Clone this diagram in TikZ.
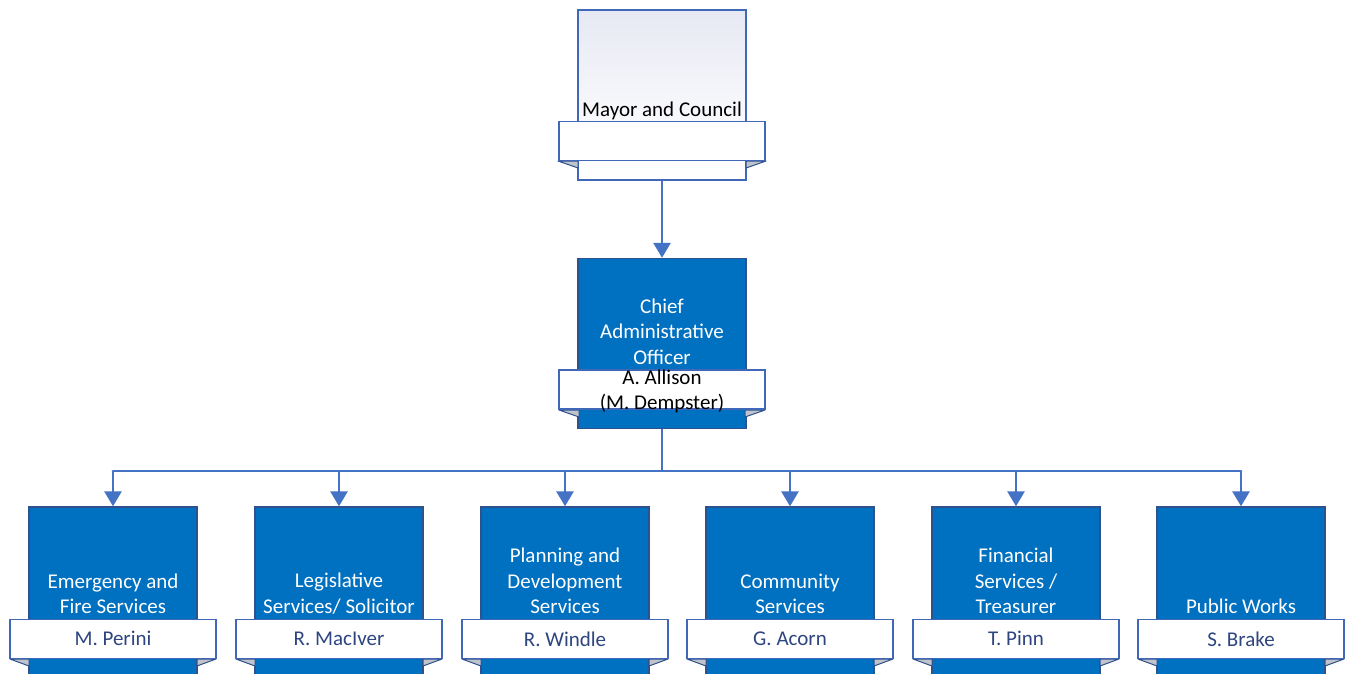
\documentclass[tikz,border=0pt]{standalone}
\usepackage{fontspec}
\setmainfont{Carlito}
\usepackage{xcolor}
\usetikzlibrary{arrows.meta}
\definecolor{boxblue}{HTML}{0070C0}
\definecolor{boxline}{HTML}{2F528F}
\definecolor{ribline}{HTML}{4168B8}
\definecolor{link}{HTML}{4472C4}
\definecolor{fold}{HTML}{BFC3CC}
\definecolor{who}{HTML}{2E4580}
\definecolor{pale}{HTML}{E6E8F3}
\newcommand{\lbl}{\fontsize{21}{25.5}\selectfont}
\tikzset{
  unit/.style={draw=boxline, line width=1.4pt, minimum width=168pt, minimum height=170pt, inner sep=0pt},
  blueunit/.style={unit, fill=boxblue},
  ribbon/.style={draw=ribline, fill=white, line width=1.4pt, minimum width=206pt, minimum height=39pt, inner sep=0pt, align=center, font=\lbl},
  foldtri/.style={fill=fold, draw=boxline, line width=1pt, line join=round},
  title/.style={align=center, font=\lbl, inner sep=1.5pt, anchor=south, yshift=3pt},
  conn/.style={draw=link, line width=2.8pt},
  arr/.style={conn, -{Triangle[width=17pt,length=15pt]}},
}

\begin{document}
\begin{tikzpicture}[x=1pt,y=-1pt]
  \clip (0,0) rectangle (1349,673);
  \fill[white] (0,0) rectangle (1349,673);

  % mayor and council
  \node[unit, draw=ribline, top color=pale, bottom color=white, middle color=white!60!pale] (mayor) at (662,95) {};
  \filldraw[foldtri] (558,161) -- (578,161) -- (578,168) -- cycle;
  \filldraw[foldtri] (766,161) -- (746,161) -- (746,168) -- cycle;
  \node[ribbon] (mayorname) at ([yshift=-131.5pt]mayor.north) {};
  \node[title, yshift=-4pt] (mayortitle) at (mayorname.north) {Mayor and Council};

  % chief administrative officer
  \node[blueunit] (cao) at (662,343.5) {};
  \filldraw[foldtri] (559,410) -- (579,410) -- (579,417) -- cycle;
  \filldraw[foldtri] (765,410) -- (745,410) -- (745,417) -- cycle;
  \node[ribbon] (caoname) at ([yshift=-131.5pt]cao.north) {};
  \node[font=\lbl, align=center, inner sep=0pt] (caowho) at ([yshift=-2pt]caoname) {A. Allison\\(M. Dempster)};
  \node[title, text=white] (caotitle) at (caoname.north) {Chief\\Administrative\\Officer};

  \draw[arr] (mayor.south) -- (cao.north);

  % departments
  \coordinate (bus) at (662,471);
  \foreach \x/\d/\ttl/\nm in {
      113/fire/{Emergency and\\Fire Services}/M. Perini,
      339/legal/{Legislative\\Services/ Solicitor}/R. MacIver,
      565/plan/{Planning and\\Development\\Services}/R. Windle,
      790/comm/{Community\\Services}/G. Acorn,
      1016/fin/{Financial\\Services /\\Treasurer}/T. Pinn,
      1241/works/{Public Works}/S. Brake}{
    \node[blueunit] (\d) at (\x,592) {};
    \filldraw[foldtri] ([xshift=-103pt]\x,659) -- ([xshift=-84pt]\x,659) -- ([xshift=-84pt]\x,666) -- cycle;
    \filldraw[foldtri] ([xshift=103pt]\x,659) -- ([xshift=84pt]\x,659) -- ([xshift=84pt]\x,666) -- cycle;
    \node[ribbon, text=who] (\d name) at ([yshift=-132.5pt]\d.north) {\nm};
    \node[title, text=white] (\d title) at (\d name.north) {\ttl};
    \draw[arr] (bus -| \d) -- (\d.north);
  }

  \draw[conn] (cao.south) -- (bus);
  \draw[conn, line cap=round] (bus -| fire) -- (bus -| works);
\end{tikzpicture}
\end{document}
